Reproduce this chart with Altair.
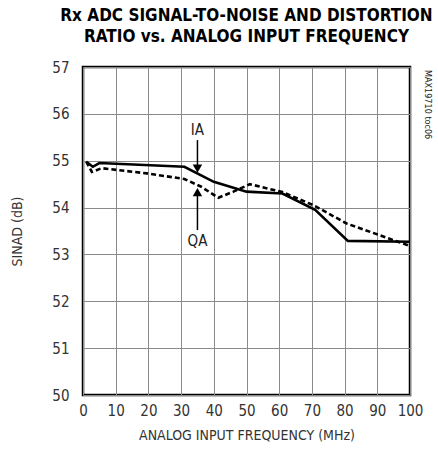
import altair as alt
import pandas as pd

ia_freq = [1, 3, 5, 31, 40, 50, 61, 71, 81, 100]
ia_sinad = [54.98, 54.87, 54.95, 54.87, 54.55, 54.34, 54.30, 53.95, 53.29, 53.27]

qa_freq = [1, 2.7, 5.7, 19.5, 31, 36, 41.4, 46, 51, 61, 70.5, 80.6, 100]
qa_sinad = [54.98, 54.76, 54.84, 54.73, 54.61, 54.45, 54.21, 54.34, 54.50, 54.33, 54.05, 53.66, 53.18]

x_ticks = [0, 10, 20, 30, 40, 50, 60, 70, 80, 90, 100]
y_ticks = [50, 51, 52, 53, 54, 55, 56, 57]

ann_labels = ["IA", "QA"]
ann_x = [35, 35]
ann_label_y = [55.65, 53.29]
ann_rule_from = [55.44, 53.52]
ann_tip = [54.70, 54.46]
ann_shape = ["triangle-down", "triangle-up"]

df = pd.concat([
    pd.DataFrame({"f": ia_freq, "s": ia_sinad, "ch": "IA"}),
    pd.DataFrame({"f": qa_freq, "s": qa_sinad, "ch": "QA"}),
])
ann = pd.DataFrame({"label": ann_labels, "x": ann_x, "ly": ann_label_y,
                    "y1": ann_rule_from, "tip": ann_tip, "shape": ann_shape})
ann["head"] = [t + 0.13 if s == "triangle-down" else t - 0.13 for t, s in zip(ann_tip, ann_shape)]

xs = alt.Scale(domain=[0, 100], nice=False, zero=False)
ys = alt.Scale(domain=[50, 57], nice=False, zero=False)

FONT = "'Liberation Sans Narrow', 'DejaVu Sans Condensed', Roboto, 'Liberation Sans', sans-serif"

x_axis = alt.Axis(values=x_ticks, title="ANALOG INPUT FREQUENCY (MHz)", ticks=False,
                  labelPadding=8, titlePadding=10, domain=False, labelOverlap=False,
                  labelFlush=False, gridColor="#8a8a8a", gridWidth=1)
y_axis = alt.Axis(values=y_ticks, title="SINAD (dB)", ticks=False,
                  labelPadding=14, titlePadding=27, domain=False, labelOverlap=False,
                  labelFlush=False, gridColor="#8a8a8a", gridWidth=1)

base = alt.Chart(df).encode(
    x=alt.X("f:Q", scale=xs, axis=x_axis),
    y=alt.Y("s:Q", scale=ys, axis=y_axis),
)

ia_line = base.transform_filter(alt.datum.ch == "IA").mark_line(color="black", strokeWidth=2.6)
qa_line = base.transform_filter(alt.datum.ch == "QA").mark_line(color="black", strokeWidth=2.6,
                                                                 strokeDash=[5, 3])

ann_base = alt.Chart(ann)
rules = ann_base.mark_rule(color="black", strokeWidth=1.5).encode(
    x=alt.X("x:Q", scale=xs, axis=x_axis), y=alt.Y("y1:Q", scale=ys, axis=y_axis), y2="head:Q")
heads = ann_base.mark_point(filled=True, color="black", opacity=1, size=90).encode(
    x=alt.X("x:Q", scale=xs, axis=x_axis), y=alt.Y("head:Q", scale=ys, axis=y_axis),
    shape=alt.Shape("shape:N", scale=None, legend=None))
labels = ann_base.mark_text(font=FONT, fontSize=15, color="#222").encode(
    x=alt.X("x:Q", scale=xs, axis=x_axis), y=alt.Y("ly:Q", scale=ys, axis=y_axis), text="label:N")

side = alt.Chart(pd.DataFrame({"t": ["MAX19710 toc06"]})).mark_text(
    font=FONT, fontSize=9, angle=90, align="left", baseline="middle", color="#222").encode(
    x=alt.value(345), y=alt.value(3), text="t:N")

chart = alt.layer(ia_line, qa_line, rules, heads, labels, side).properties(
    width=327, height=328,
    padding={"left": 83, "top": 67, "right": 28, "bottom": 63},
    autosize=alt.AutoSizeParams(type="none"),
    title=alt.Title(["Rx ADC SIGNAL-TO-NOISE AND DISTORTION", "RATIO vs. ANALOG INPUT FREQUENCY"],
                    font=FONT, fontSize=17, fontWeight="bold", color="black",
                    anchor="middle", offset=14, lineHeight=21),
).configure_view(stroke="black", strokeWidth=2.5).configure_axis(
    labelFont=FONT, labelFontSize=15, labelColor="#333", titleFont=FONT, titleFontSize=14,
    titleFontWeight="normal", titleColor="#333"
)

chart.save("out.html", embed_options={"renderer": "svg", "actions": False})
